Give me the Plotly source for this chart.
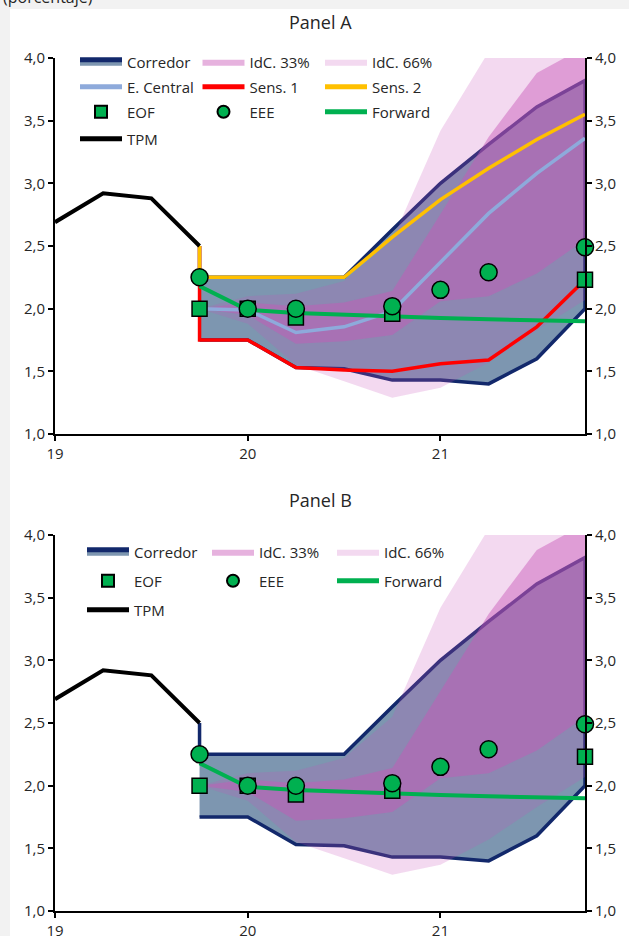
import plotly.graph_objects as go

# ---------------- data ----------------
tpm_x = [19.0, 19.25, 19.5, 19.75]
tpm = [2.69, 2.92, 2.88, 2.50]

proj_x = [19.75, 20.0, 20.25, 20.5, 20.75, 21.0, 21.25, 21.5, 21.75]
corr_upper = [2.25, 2.25, 2.25, 2.25, 2.63, 3.00, 3.31, 3.61, 3.82]
corr_lower = [1.75, 1.75, 1.53, 1.52, 1.43, 1.43, 1.40, 1.60, 2.00]
idc33_upper = [2.00, 2.05, 2.02, 2.05, 2.14, 2.76, 3.37, 3.88, 4.09]
idc33_lower = [2.00, 1.95, 1.72, 1.74, 1.79, 2.06, 2.10, 2.28, 2.55]
idc66_upper = [2.00, 2.10, 2.12, 2.22, 2.55, 3.42, 4.05, 4.50, 4.80]
idc66_lower = [2.00, 1.88, 1.55, 1.42, 1.29, 1.37, 1.57, 1.83, 2.07]
central = [2.00, 1.99, 1.81, 1.855, 1.98, 2.37, 2.76, 3.08, 3.36]
sens1 = [1.75, 1.75, 1.53, 1.51, 1.50, 1.56, 1.59, 1.855, 2.23]
sens2 = [2.25, 2.25, 2.25, 2.25, 2.57, 2.87, 3.12, 3.35, 3.55]
forward = [2.18, 1.99, 1.965, 1.95, 1.94, 1.925, 1.915, 1.905, 1.90]
eof_x = [19.75, 20.0, 20.25, 20.75, 21.75]
eof = [2.00, 2.00, 1.93, 1.96, 2.23]
eee_x = [19.75, 20.0, 20.25, 20.75, 21.0, 21.25, 21.75]
eee = [2.25, 2.00, 2.00, 2.02, 2.15, 2.29, 2.49]

x_ticks = [19, 20, 21]
x_ticklabels = ["19", "20", "21"]
y_ticks = [1.0, 1.5, 2.0, 2.5, 3.0, 3.5, 4.0]

# ---------------- layout geometry ----------------
W, H = 629, 936
ML, MR, MT, MB = 55, 44, 58, 25
PW = W - ML - MR
PH = H - MT - MB
PANEL_H = 376


def px_x(px):
    return (px - ML) / PW


def px_y(py):
    return (H - MB - py) / PH


FONT = "Open Sans"
TXT = "#262626"

NAVY = "#12286b"
CORR_FILL = "rgb(125,150,176)"
P66 = "rgba(200,80,185,0.22)"
P33 = "rgba(201,87,184,0.46)"
BLUE = "#8eaadb"
RED = "#ff0000"
YEL = "#ffc000"
GREEN = "#00b050"

fig = go.Figure()


def add_panel(xa, ya, legs, full):
    l1, l2, l3, l4 = legs
    poly_x = [proj_x[0]] + proj_x + proj_x[::-1]
    poly_y = [tpm[-1]] + corr_upper + corr_lower[::-1]
    fig.add_trace(go.Scatter(x=poly_x, y=poly_y, fill="toself", fillcolor=CORR_FILL,
                             line=dict(color=NAVY, width=3.5), mode="lines",
                             name="Corredor", legend=l1, legendrank=1,
                             xaxis=xa, yaxis=ya, hoverinfo="skip"))
    fig.add_trace(go.Scatter(x=proj_x + proj_x[::-1], y=idc66_upper + idc66_lower[::-1],
                             fill="toself", fillcolor=P66, line=dict(width=0),
                             mode="lines", name="IdC. 66%", legend=l1, legendrank=3,
                             xaxis=xa, yaxis=ya, hoverinfo="skip"))
    fig.add_trace(go.Scatter(x=proj_x + proj_x[::-1], y=idc33_upper + idc33_lower[::-1],
                             fill="toself", fillcolor=P33, line=dict(width=0),
                             mode="lines", name="IdC. 33%", legend=l1, legendrank=2,
                             xaxis=xa, yaxis=ya, hoverinfo="skip"))
    if full:
        fig.add_trace(go.Scatter(x=proj_x, y=central, mode="lines",
                                 line=dict(color=BLUE, width=3.5), name="E. Central",
                                 legend=l2, legendrank=1, xaxis=xa, yaxis=ya))
        fig.add_trace(go.Scatter(x=[proj_x[0]] + proj_x, y=[tpm[-1]] + sens1, mode="lines",
                                 line=dict(color=RED, width=3.5), name="Sens. 1",
                                 legend=l2, legendrank=2, xaxis=xa, yaxis=ya))
        fig.add_trace(go.Scatter(x=[proj_x[0]] + proj_x, y=[tpm[-1]] + sens2, mode="lines",
                                 line=dict(color=YEL, width=3.5), name="Sens. 2",
                                 legend=l2, legendrank=3, xaxis=xa, yaxis=ya))
    fig.add_trace(go.Scatter(x=proj_x, y=forward, mode="lines",
                             line=dict(color=GREEN, width=4), name="Forward",
                             legend=l3, legendrank=3, xaxis=xa, yaxis=ya))
    fig.add_trace(go.Scatter(x=tpm_x, y=tpm, mode="lines",
                             line=dict(color="black", width=4), name="TPM",
                             legend=l4, legendrank=1, xaxis=xa, yaxis=ya))
    fig.add_trace(go.Scatter(x=eof_x, y=eof, mode="markers", cliponaxis=False,
                             marker=dict(symbol="square", size=15, color=GREEN,
                                         line=dict(color="black", width=1.5)),
                             name="EOF", legend=l3, legendrank=1, xaxis=xa, yaxis=ya))
    fig.add_trace(go.Scatter(x=eee_x, y=eee, mode="markers", cliponaxis=False,
                             marker=dict(symbol="circle", size=17, color=GREEN,
                                         line=dict(color="black", width=1.5)),
                             name="EEE", legend=l3, legendrank=2, xaxis=xa, yaxis=ya))


add_panel("x", "y", ("legend", "legend2", "legend3", "legend4"), True)
add_panel("x2", "y3", ("legend5", "legend6", "legend6", "legend7"), False)
# right-side axes carriers
fig.add_trace(go.Scatter(x=[], y=[], xaxis="x", yaxis="y2", showlegend=False))
fig.add_trace(go.Scatter(x=[], y=[], xaxis="x2", yaxis="y4", showlegend=False))

top_dom = [1 - PANEL_H / PH, 1]
bot_dom = [0, PANEL_H / PH]

xcommon = dict(range=[19, 21.75], tickvals=x_ticks, ticktext=x_ticklabels,
               showline=True, linecolor="black", linewidth=2, ticks="outside",
               ticklen=5, tickwidth=1.5, tickcolor="black", showgrid=False,
               zeroline=False, tickfont=dict(size=15, color=TXT, family=FONT),
               fixedrange=True, automargin=False)
ycommon = dict(range=[1, 4], tickvals=y_ticks, tickformat=".1f",
               showline=True, linecolor="black", linewidth=2, ticks="outside",
               ticklen=5, tickwidth=1.5, tickcolor="black", showgrid=False,
               zeroline=False, tickfont=dict(size=15, color=TXT, family=FONT),
               fixedrange=True, automargin=False)

legcommon = dict(orientation="h", xanchor="left", yanchor="middle",
                 bgcolor="rgba(0,0,0,0)", font=dict(size=15, color=TXT, family=FONT),
                 entrywidthmode="pixels", itemwidth=42,
                 itemsizing="constant", traceorder="normal")


def leg(xpx, ypx, ew):
    d = dict(legcommon)
    d.update(x=px_x(xpx), y=px_y(ypx), entrywidth=ew)
    return d


def note(text, xpx, ypx, size, xanchor="center"):
    return dict(text=text, xref="paper", yref="paper", x=px_x(xpx), y=px_y(ypx),
                xanchor=xanchor, yanchor="middle", showarrow=False,
                font=dict(size=size, color=TXT, family=FONT))


fig.update_layout(
    width=W, height=H,
    margin=dict(l=ML, r=MR, t=MT, b=MB, autoexpand=False),
    paper_bgcolor="#f2f2f2", plot_bgcolor="white",
    separators=",.",
    showlegend=True,
    xaxis=dict(xcommon, domain=[0, 1], anchor="y"),
    yaxis=dict(ycommon, domain=top_dom, anchor="x", side="left"),
    yaxis2=dict(ycommon, domain=top_dom, anchor="x", overlaying="y", side="right"),
    xaxis2=dict(xcommon, domain=[0, 1], anchor="y3"),
    yaxis3=dict(ycommon, domain=bot_dom, anchor="x2", side="left"),
    yaxis4=dict(ycommon, domain=bot_dom, anchor="x2", overlaying="y3", side="right"),
    legend=leg(75, 62, 65.5), legend2=leg(75, 87, 65.5),
    legend3=leg(75, 112, 65.5), legend4=leg(75, 139, 65.5),
    legend5=leg(82, 552, 68), legend6=leg(82, 581, 68), legend7=leg(82, 610, 68),
    shapes=[dict(type="rect", xref="paper", yref="paper", layer="below",
                 x0=px_x(10), x1=px_x(640), y0=px_y(945), y1=px_y(9),
                 fillcolor="white", line=dict(width=0))],
    annotations=[
        note("Panel A", 320, 22, 18),
        note("Panel B", 320, 500, 18),
        note("(porcentaje)", 1, -3, 16, xanchor="left"),
    ],
)

fig.write_html("out.html", config={"displayModeBar": False},
               post_script="document.body.style.margin='0px';")
